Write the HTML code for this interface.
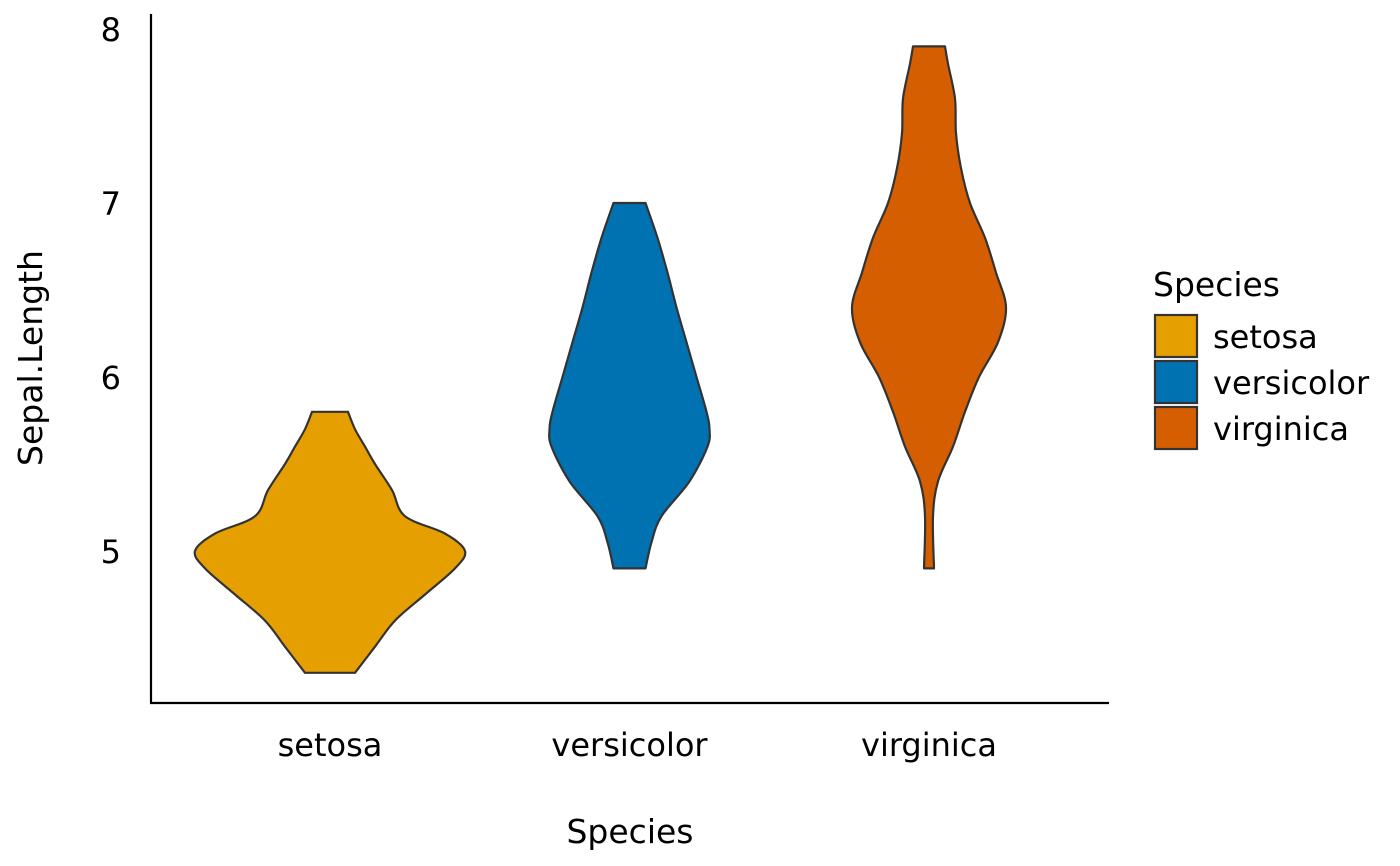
<!DOCTYPE html>
<html><head><meta charset="utf-8"><style>
html,body{margin:0;padding:0;background:#fff;}
svg{display:block;font-family:"DejaVu Sans","Liberation Sans",sans-serif;}
</style></head><body>
<svg id="chart" width="1400" height="866" viewBox="0 0 1400 866">
<line x1="151" y1="14" x2="151" y2="703" stroke="#000" stroke-width="2.2"/>
<line x1="150" y1="703" x2="1109" y2="703" stroke="#000" stroke-width="2.2"/>
<g id="violins"></g>
<g id="yticks"></g>
<g id="xticks"></g>
<text x="42" y="358" font-size="33" text-anchor="middle" transform="rotate(-90 42 358)">Sepal.Length</text>
<text x="630" y="843" font-size="33" text-anchor="middle">Species</text>
<g>
<text x="1153" y="296" font-size="33">Species</text>
<g id="legend"></g>
</g>
</svg>
<script>
const categories = ["setosa","versicolor","virginica"];
const colors = ["#E69F00","#0072B2","#D55E00"];
const yTicks = [5,6,7,8];
const setosaY = [4.3,4.45,4.6,4.75,4.9,5.0,5.1,5.2,5.35,5.5,5.6,5.7,5.8];
const setosaW = [25,45,65,95,125,135,115,75,62,45,35,25,18];
const versicolorY = [4.9,5.05,5.2,5.4,5.6,5.7,5.8,6.0,6.2,6.4,6.6,6.8,7.0];
const versicolorW = [16,22,32,60,78,80,77,67,57,47,38,28,16];
const virginicaY = [4.9,5.2,5.4,5.6,5.8,6.0,6.2,6.4,6.6,6.8,7.0,7.2,7.4,7.6,7.8,7.9];
const virginicaW = [5,4,9,24,36,50,69,77,67,56,41,32,27,26,19,16];
const seriesY = [setosaY, versicolorY, virginicaY];
const seriesW = [setosaW, versicolorW, virginicaW];

const NS="http://www.w3.org/2000/svg";
function yScale(v){return 551-(v-5)*174;}
function xScale(i){return 330+i*299.5;}
function wScale(w){return w;}
function mk(t,a,p){const e=document.createElementNS(NS,t);for(const k in a)e.setAttribute(k,a[k]);p.appendChild(e);return e;}
function smooth(pts){
  let d="";
  for(let i=0;i<pts.length-1;i++){
    const p0=pts[Math.max(0,i-1)],p1=pts[i],p2=pts[i+1],p3=pts[Math.min(pts.length-1,i+2)];
    const c1=[p1[0]+(p2[0]-p0[0])/6,p1[1]+(p2[1]-p0[1])/6];
    const c2=[p2[0]-(p3[0]-p1[0])/6,p2[1]-(p3[1]-p1[1])/6];
    d+=` C${c1[0]},${c1[1]} ${c2[0]},${c2[1]} ${p2[0]},${p2[1]}`;
  }
  return d;
}
const vg=document.getElementById('violins');
categories.forEach((c,i)=>{
  const cx=xScale(i),ys=seriesY[i],ws=seriesW[i];
  const right=ys.map((y,j)=>[cx+wScale(ws[j]),yScale(y)]);
  const left=ys.map((y,j)=>[cx-wScale(ws[j]),yScale(y)]).reverse();
  let d=`M${left[left.length-1][0]},${left[left.length-1][1]} L${right[0][0]},${right[0][1]}`+smooth(right)+` L${left[0][0]},${left[0][1]}`+smooth(left)+"Z";
  const p=mk('path',{d:d,fill:colors[i],stroke:"#333",'stroke-width':2.2,'stroke-linejoin':'round'},vg);
  
  
});
const yt=document.getElementById('yticks');
yTicks.forEach(v=>{
  const t=mk('text',{x:121,y:yScale(v)+12,'font-size':32,'text-anchor':'end'},yt);
  t.textContent=v;
  
  
});
const xt=document.getElementById('xticks');
categories.forEach((c,i)=>{
  const t=mk('text',{x:xScale(i),y:756,'font-size':32,'text-anchor':'middle'},xt);
  t.textContent=c;
  
  
});
const lg=document.getElementById('legend');
categories.forEach((c,i)=>{
  const r=mk('rect',{x:1155,y:315+i*46,width:42,height:42,fill:colors[i],stroke:"#333",'stroke-width':2.2},lg);
  
  
  const t=mk('text',{x:1213,y:348+i*46,'font-size':32},lg);
  t.textContent=c;
  
  
});
</script>
</body></html>
